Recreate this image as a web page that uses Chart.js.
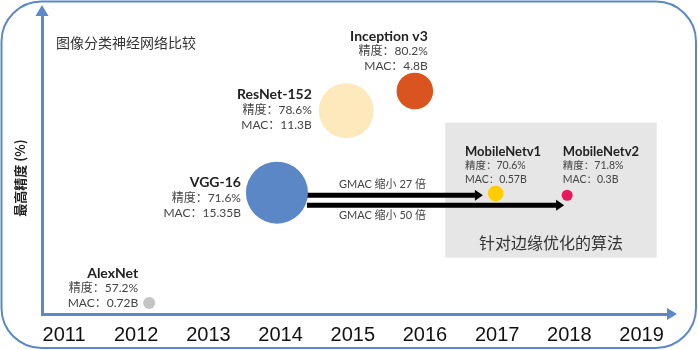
<!DOCTYPE html>
<html>
<head>
<meta charset="utf-8">
<script src="https://cdn.jsdelivr.net/npm/chart.js@4"></script>
<style>
  html, body { margin: 0; padding: 0; background: #fff; }
  #wrap { width: 698px; height: 350px; }
</style>
</head>
<body>
<div id="wrap"><canvas id="myChart"></canvas></div>
<script>
// tick labels on the x axis
const years = [2011, 2012, 2013, 2014, 2015, 2016, 2017, 2018, 2019];

// networks
const nets = ['AlexNet', 'VGG-16', 'ResNet-152', 'Inception v3', 'MobileNetv1', 'MobileNetv2'];
const netYear = [2012.18, 2013.95, 2014.91, 2015.86, 2016.98, 2017.97];
// the y axis has no ticks, so this is just the height read off the picture
const netLevel = [51.3, 64.2, 73.8, 76.1, 64.1, 63.9];
const netBubble = [6, 31, 27.5, 18.3, 7.8, 5.5];
const netAccuracy = ['57.2%', '71.6%', '78.6%', '80.2%', '70.6%', '71.8%'];
const netMac = ['0.72B', '15.35B', '11.3B', '4.8B', '0.57B', '0.3B'];
const netColors = ['#c4c4c4', '#5b87c6', '#fde9bb', '#d9541e', '#ffcc00', '#e8175d'];

// grey area "edge optimised", in axis units
const edgeYears = [2016.28, 2019.21];
const edgeLevels = [56.6, 72.4];

const arrowNotes = ['GMAC 缩小 27 倍', 'GMAC 缩小 50 倍'];

const BLUE = '#5b89c8';
const LATIN = "Lato, 'Noto Sans CJK SC', sans-serif";
const CJK = "'Noto Sans CJK SC', sans-serif";

// where each text block sits next to its bubble
const labelPlace = [
  {dx: -11, dy: -29.5, gap: 15, align: 'right', big: true},
  {dx: -36, dy: -10.5, gap: 15.5, align: 'right', big: true},
  {dx: -34.5, dy: -16.5, gap: 15.5, align: 'right', big: true},
  {dx: 13, dy: -55, gap: 15, align: 'right', big: true},
  {dx: -30.7, dy: -41.3, gap: 13.5, align: 'left', big: false},
  {dx: -4.3, dy: -43, gap: 13.5, align: 'left', big: false}
];

function arrow(ctx, x1, y, x2) {
  ctx.beginPath();
  ctx.moveTo(x1, y);
  ctx.lineTo(x2 - 6, y);
  ctx.lineWidth = 5;
  ctx.strokeStyle = '#000';
  ctx.stroke();
  ctx.beginPath();
  ctx.moveTo(x2, y);
  ctx.lineTo(x2 - 8, y - 5.5);
  ctx.lineTo(x2 - 8, y + 5.5);
  ctx.closePath();
  ctx.fillStyle = '#000';
  ctx.fill();
}

const decor = {
  id: 'decor',
  beforeDraw(chart) {
    const ctx = chart.ctx;
    const W = chart.width, H = chart.height;
    ctx.save();
    ctx.fillStyle = '#fff';
    ctx.fillRect(0, 0, W, H);
    // outer rounded frame
    const r = 40, x0 = 1.5, y0 = 1.5, x1 = W - 2, y1 = H - 2;
    ctx.beginPath();
    ctx.moveTo(x0 + r, y0);
    ctx.lineTo(x1 - r, y0);
    ctx.arcTo(x1, y0, x1, y0 + r, r);
    ctx.lineTo(x1, y1 - r);
    ctx.arcTo(x1, y1, x1 - r, y1, r);
    ctx.lineTo(x0 + r, y1);
    ctx.arcTo(x0, y1, x0, y1 - r, r);
    ctx.lineTo(x0, y0 + r);
    ctx.arcTo(x0, y0, x0 + r, y0, r);
    ctx.closePath();
    ctx.lineWidth = 2;
    ctx.strokeStyle = BLUE;
    ctx.stroke();
    ctx.restore();
  },
  beforeDatasetsDraw(chart) {
    const ctx = chart.ctx;
    const xs = chart.scales.x, ys = chart.scales.y;
    const a = chart.chartArea;
    ctx.save();
    // grey box
    const bx1 = xs.getPixelForValue(edgeYears[0]), bx2 = xs.getPixelForValue(edgeYears[1]);
    const by1 = ys.getPixelForValue(edgeLevels[1]), by2 = ys.getPixelForValue(edgeLevels[0]);
    ctx.fillStyle = '#e6e6e7';
    ctx.fillRect(bx1, by1, bx2 - bx1, by2 - by1);
    ctx.fillStyle = '#333';
    ctx.font = '16px ' + CJK;
    ctx.textAlign = 'center';
    ctx.textBaseline = 'middle';
    ctx.fillText('针对边缘优化的算法', (bx1 + bx2) / 2, by2 - 15);

    // axis arrow heads
    ctx.fillStyle = BLUE;
    ctx.beginPath();
    ctx.moveTo(a.left, a.top - 10);
    ctx.lineTo(a.left - 6.5, a.top + 1);
    ctx.lineTo(a.left + 6.5, a.top + 1);
    ctx.closePath();
    ctx.fill();
    ctx.beginPath();
    ctx.moveTo(a.right + 9, a.bottom);
    ctx.lineTo(a.right - 1, a.bottom - 6);
    ctx.lineTo(a.right - 1, a.bottom + 6);
    ctx.closePath();
    ctx.fill();

    // titles
    ctx.fillStyle = '#333';
    ctx.font = '14px ' + CJK;
    ctx.textAlign = 'left';
    ctx.fillText('图像分类神经网络比较', a.left + 14, a.top + 28);
    ctx.save();
    ctx.translate(a.left - 22, (a.top + a.bottom) / 2 + 13.5);
    ctx.rotate(-Math.PI / 2);
    ctx.textAlign = 'center';
    ctx.fillStyle = '#222';
    ctx.font = 'bold 13px ' + CJK;
    ctx.fillText('最高精度 (%)', 0, 0);
    ctx.restore();

    // arrows from VGG-16 to the MobileNets
    const pts = chart.getDatasetMeta(0).data;
    const vgg = pts[1], m1 = pts[4], m2 = pts[5];
    const xStart = vgg.x + netBubble[1] - 1;
    const yUp = vgg.y + 2.5, yDown = vgg.y + 12.5;
    arrow(ctx, xStart, yUp, m1.x - netBubble[4] - 5);
    arrow(ctx, xStart, yDown, m2.x - 3);
    ctx.fillStyle = '#444';
    ctx.font = '11px ' + LATIN;
    ctx.textAlign = 'left';
    ctx.fillText(arrowNotes[0], xStart + 32, yUp - 11);
    ctx.fillText(arrowNotes[1], xStart + 32, yDown + 10);
    ctx.restore();
  },
  afterDatasetsDraw(chart) {
    const ctx = chart.ctx;
    const pts = chart.getDatasetMeta(0).data;
    ctx.save();
    ctx.textBaseline = 'middle';
    pts.forEach((p, i) => {
      const L = labelPlace[i];
      const x = p.x + L.dx;
      let y = p.y + L.dy;
      ctx.textAlign = L.align;
      ctx.fillStyle = '#222';
      ctx.font = 'bold ' + (L.big ? 14 : 13) + 'px ' + LATIN;
      ctx.fillText(nets[i], x, y);
      ctx.fillStyle = '#444';
      ctx.font = (L.big ? 12 : 10.5) + 'px ' + LATIN;
      y += L.gap;
      ctx.fillText('精度：' + netAccuracy[i], x, y);
      y += L.gap;
      ctx.fillText('MAC：' + netMac[i], x, y);
    });
    ctx.restore();
  }
};

const points = nets.map((n, i) => ({x: netYear[i], y: netLevel[i], r: netBubble[i]}));

const config = {
  type: 'bubble',
  data: {
    datasets: [{
      label: '图像分类神经网络',
      data: points,
      backgroundColor: netColors,
      borderWidth: 0,
      hoverBorderWidth: 0
    }]
  },
  options: {
    responsive: true,
    maintainAspectRatio: false,
    animation: false,
    layout: { autoPadding: false, padding: { top: 15, right: 30, left: 0, bottom: 0 } },
    plugins: { legend: { display: false }, tooltip: { enabled: false } },
    scales: {
      x: {
        type: 'linear',
        min: 2010.695,
        max: 2019.367,
        grid: { display: false, drawTicks: false, tickLength: 0 },
        border: { display: true, color: BLUE, width: 3 },
        afterBuildTicks: s => { s.ticks = years.map(v => ({value: v})); },
        afterFit: s => { s.height = 36; },
        ticks: {
          autoSkip: false,
          maxRotation: 0,
          padding: 9,
          color: '#111',
          font: { family: "'Liberation Sans', Arial, sans-serif", size: 20 },
          callback: v => String(v)
        }
      },
      y: {
        type: 'linear',
        min: 50,
        max: 85,
        grid: { display: false, drawTicks: false, tickLength: 0 },
        border: { display: true, color: BLUE, width: 3 },
        ticks: { display: false },
        afterFit: s => { s.width = 42; }
      }
    }
  },
  plugins: [decor]
};

const myChart = new Chart(document.getElementById('myChart'), config);
</script>
</body>
</html>
